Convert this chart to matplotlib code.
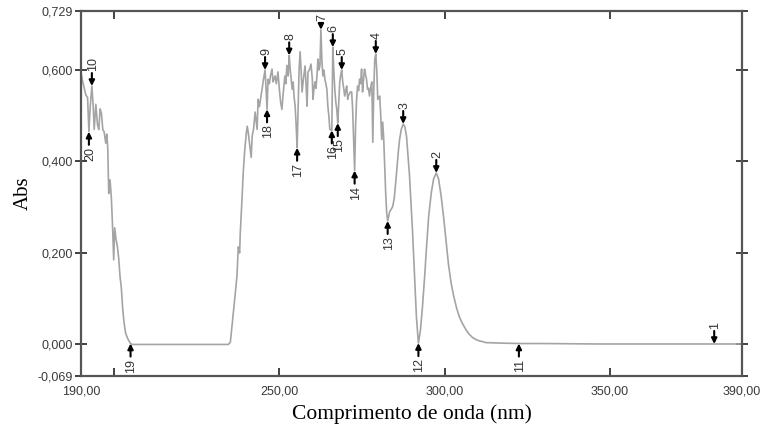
import matplotlib
matplotlib.use("Agg")
import matplotlib.pyplot as plt
from matplotlib.ticker import FixedLocator

# spectrum (wavelength nm, absorbance)
wavelength = [
    190.0, 190.5, 191.0, 191.5, 192.0, 192.4, 192.8, 193.3, 193.7, 194.0,
    194.5, 195.0, 195.4, 195.8, 196.2, 196.6, 197.0, 197.5, 197.8, 198.1,
    198.4, 198.8, 199.2, 199.6, 199.9, 200.2, 200.6, 201.0, 201.4, 201.8,
    202.2, 202.6, 203.0, 203.5, 204.0, 204.5, 205.0, 205.5, 234.6, 235.2,
    236.1, 236.4, 236.7, 237.2, 237.6, 238.0, 238.2, 238.6, 239.1, 239.5,
    240.0, 240.3, 240.6, 241.0, 241.2, 241.5, 241.8, 242.2, 242.7, 243.0,
    243.3, 243.6, 244.0, 244.2, 244.5, 244.8, 245.1, 245.7, 246.0, 246.3,
    246.6, 247.0, 247.4, 247.8, 248.1, 248.4, 248.7, 249.1, 249.6, 250.0,
    250.4, 250.8, 251.2, 251.7, 252.0, 252.3, 252.7, 253.0, 253.3, 253.6,
    253.9, 254.2, 254.5, 254.8, 255.1, 255.4, 255.7, 256.0, 256.3, 256.6,
    256.9, 257.3, 257.8, 258.1, 258.4, 258.7, 259.1, 259.6, 260.0, 260.2,
    260.5, 260.8, 261.1, 261.4, 261.7, 262.0, 262.3, 262.6, 262.9, 263.2,
    263.5, 263.8, 264.1, 264.4, 264.7, 265.0, 265.3, 265.9, 266.0, 266.2,
    266.5, 266.8, 267.1, 267.4, 267.7, 268.0, 268.3, 268.6, 268.9, 269.2,
    269.5, 269.8, 270.1, 270.4, 270.7, 271.0, 271.5, 271.9, 272.2, 272.5,
    272.8, 273.1, 273.4, 273.7, 274.0, 274.3, 274.6, 274.9, 275.2, 275.5,
    275.8, 276.1, 276.4, 276.7, 277.0, 277.3, 277.6, 278.0, 278.3, 278.6,
    278.9, 279.2, 279.5, 279.8, 280.1, 280.4, 280.7, 281.0, 281.3, 281.6,
    281.9, 282.2, 282.5, 282.8, 283.4, 283.9, 284.3, 284.8, 285.5, 286.0,
    286.4, 286.9, 287.5, 288.0, 288.5, 288.8, 289.4, 290.3, 290.8, 291.5,
    292.1, 292.7, 293.3, 294.0, 294.5, 295.2, 296.0, 296.7, 297.5, 298.2,
    299.0, 299.7, 300.5, 301.2, 302.0, 302.8, 303.6, 304.5, 305.4, 306.5,
    307.5, 308.5, 310.0, 312.6, 317.0, 322.5, 330.0, 346.6, 360.0, 381.6,
    390.0,
]
absorbance = [
    0.595, 0.575, 0.560, 0.545, 0.540, 0.465, 0.520, 0.565, 0.520, 0.470,
    0.525, 0.480, 0.470, 0.515, 0.505, 0.470, 0.465, 0.440, 0.460, 0.430,
    0.330, 0.360, 0.320, 0.250, 0.185, 0.255, 0.230, 0.215, 0.190, 0.150,
    0.125, 0.080, 0.050, 0.025, 0.015, 0.008, 0.002, 0.000, 0.000, 0.005,
    0.068, 0.090, 0.112, 0.150, 0.213, 0.200, 0.244, 0.300, 0.376, 0.420,
    0.460, 0.477, 0.464, 0.440, 0.426, 0.409, 0.455, 0.470, 0.508, 0.490,
    0.470, 0.536, 0.520, 0.530, 0.545, 0.558, 0.574, 0.600, 0.560, 0.514,
    0.580, 0.570, 0.590, 0.602, 0.574, 0.580, 0.587, 0.570, 0.596, 0.560,
    0.530, 0.514, 0.550, 0.587, 0.570, 0.610, 0.587, 0.632, 0.602, 0.580,
    0.558, 0.574, 0.540, 0.521, 0.480, 0.430, 0.520, 0.602, 0.640, 0.600,
    0.552, 0.580, 0.609, 0.570, 0.521, 0.596, 0.600, 0.613, 0.580, 0.536,
    0.560, 0.574, 0.560, 0.587, 0.624, 0.600, 0.609, 0.688, 0.620, 0.587,
    0.600, 0.580, 0.570, 0.558, 0.521, 0.500, 0.470, 0.468, 0.536, 0.650,
    0.600, 0.558, 0.530, 0.514, 0.484, 0.530, 0.574, 0.590, 0.600, 0.574,
    0.560, 0.543, 0.555, 0.565, 0.536, 0.545, 0.552, 0.552, 0.514, 0.450,
    0.380, 0.480, 0.536, 0.565, 0.555, 0.580, 0.570, 0.602, 0.552, 0.580,
    0.602, 0.590, 0.580, 0.558, 0.560, 0.543, 0.560, 0.574, 0.442, 0.560,
    0.624, 0.635, 0.600, 0.536, 0.540, 0.543, 0.500, 0.448, 0.486, 0.450,
    0.389, 0.330, 0.288, 0.270, 0.290, 0.296, 0.301, 0.320, 0.376, 0.420,
    0.448, 0.470, 0.482, 0.476, 0.455, 0.426, 0.370, 0.250, 0.170, 0.060,
    0.003, 0.030, 0.080, 0.150, 0.207, 0.280, 0.332, 0.362, 0.375, 0.362,
    0.323, 0.280, 0.225, 0.175, 0.134, 0.105, 0.081, 0.060, 0.046, 0.032,
    0.022, 0.015, 0.009, 0.004, 0.003, 0.002, 0.002, 0.001, 0.001, 0.001,
    0.001,
]

# picked peaks (1-10) and valleys (11-20)
peak_labels = ['1', '2', '3', '4', '5', '6', '7', '8', '9', '10']
peak_nm = [381.6, 297.5, 287.5, 279.2, 268.9, 266.2, 262.6, 253.0, 245.7, 193.3]
peak_abs = [0.001, 0.375, 0.482, 0.635, 0.600, 0.650, 0.688, 0.632, 0.600, 0.565]

valley_labels = ['11', '12', '13', '14', '15', '16', '17', '18', '19', '20']
valley_nm = [322.5, 292.1, 282.8, 272.8, 267.7, 265.9, 255.4, 246.3, 205.0, 192.4]
valley_abs = [0.002, 0.003, 0.270, 0.380, 0.484, 0.468, 0.430, 0.514, 0.002, 0.465]

x_ticks = [190, 250, 300, 350, 390]
y_ticks = [-0.069, 0.0, 0.2, 0.4, 0.6, 0.729]

fig = plt.figure(figsize=(7.61, 4.32), dpi=100)
ax = fig.add_axes([0.1064, 0.1296, 0.8686, 0.8449])
ax.set_xlim(190, 390)
ax.set_ylim(-0.069, 0.729)

ax.plot(wavelength, absorbance, color='#a4a4a4', lw=1.2)

arrow = dict(arrowstyle='-|>', color='black', lw=1.5, mutation_scale=8,
             shrinkA=0, shrinkB=0)
top_px = ax.transData.transform((0, 0.729))[1]
for lab, x, y in zip(peak_labels, peak_nm, peak_abs):
    # shorten the arrow when the label would hit the top frame
    room = top_px - ax.transData.transform((x, y))[1]
    alen = 13 if room > 30 else max(room - 12, 4)
    ax.annotate('', xy=(x, y), xytext=(0, alen), textcoords='offset pixels',
                arrowprops=arrow, annotation_clip=False)
    ax.annotate(lab, xy=(x, y), xytext=(1, alen + 2), textcoords='offset pixels',
                rotation=90, ha='center', va='bottom', fontsize=9,
                family='Liberation Sans', color='#333333')
for lab, x, y in zip(valley_labels, valley_nm, valley_abs):
    ax.annotate('', xy=(x, y), xytext=(0, -13), textcoords='offset pixels',
                arrowprops=arrow, annotation_clip=False)
    ax.annotate(lab, xy=(x, y), xytext=(1, -15), textcoords='offset pixels',
                rotation=90, ha='center', va='top', fontsize=9,
                family='Liberation Sans', color='#333333')

ax.set_xticks(x_ticks)
ax.set_xticklabels([f'{v:.2f}'.replace('.', ',') for v in x_ticks])
ax.xaxis.set_minor_locator(FixedLocator([200]))
ax.set_yticks(y_ticks)
ax.set_yticklabels([f'{v:.3f}'.replace('.', ',') for v in y_ticks])

for lab in ax.get_xticklabels() + ax.get_yticklabels():
    lab.set_family('Liberation Sans')
    lab.set_fontsize(9)
    lab.set_color('#3a3a3a')

ax.tick_params(axis='x', which='both', direction='in', length=6, width=1.3,
               top=True, pad=7, color='#333333')
ax.tick_params(axis='y', direction='inout', length=8, width=1.3,
               right=True, pad=2, color='#333333')
for s in ax.spines.values():
    s.set_color('#555555')
    s.set_linewidth(1.6)

ax.set_xlabel('Comprimento de onda (nm)', family='Liberation Serif',
              fontsize=15.5, labelpad=5)
ax.set_ylabel('Abs', family='Liberation Serif', fontsize=15, labelpad=3)

fig.savefig('out.png', dpi=100)
